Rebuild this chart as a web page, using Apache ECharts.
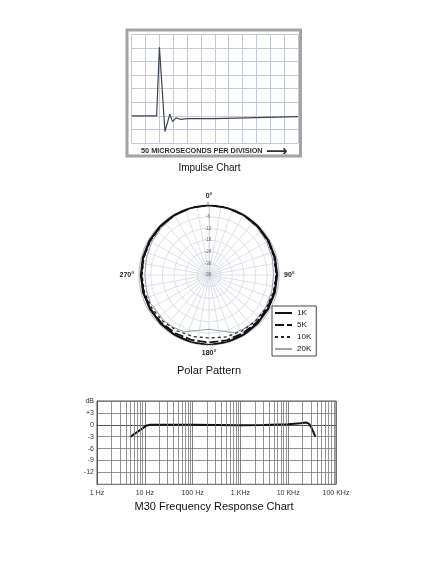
<!DOCTYPE html>
<html><head><meta charset="utf-8">
<script src="https://cdn.jsdelivr.net/npm/echarts/dist/echarts.min.js"></script>
<style>html,body{margin:0;padding:0;background:#fff}#c{width:439px;height:572px}</style>
</head><body><div id="c"></div>
<script>
// ---- Impulse chart (x in divisions of 50 µs, y in grid divisions) ----
const impulseTime  = [0, 1.8, 2.0, 2.4, 2.75, 2.95, 3.2, 3.5, 4, 6, 9, 12];
const impulseLevel = [0, 0, 5.05, -1.15, 0.12, -0.42, -0.15, -0.25, -0.2, -0.2, -0.12, -0.05];

// ---- Polar pattern (dB vs angle in degrees) ----
const polarAngles = [0, 15, 30, 45, 60, 75, 90, 105, 120, 135, 150, 165, 180, 195, 210, 225, 240, 255, 270, 285, 300, 315, 330, 345, 360];
const polar1K  = [0, -0.1, -0.3, -0.5, -0.7, -0.9, -1.0, -1.0, -1.0, -0.8, -0.5, -0.2, 0, -0.2, -0.5, -0.8, -1.0, -1.0, -1.0, -0.9, -0.7, -0.5, -0.3, -0.1, 0];
const polar5K  = [0, -0.1, -0.3, -0.6, -0.8, -1.1, -1.3, -1.4, -1.5, -1.4, -1.3, -1.2, -1.3, -1.4, -1.4, -1.3, -1.2, -1.2, -1.2, -1.1, -0.9, -0.6, -0.3, -0.1, 0];
const polar10K = [0, -0.2, -0.5, -0.8, -1.1, -1.4, -1.6, -1.8, -2.0, -2.3, -2.6, -3.0, -3.6, -3.3, -2.9, -2.4, -2.0, -1.7, -1.6, -1.4, -1.2, -0.9, -0.5, -0.2, 0];
const polarAngles20K = [0, 15, 30, 45, 60, 75, 90, 105, 120, 135, 145, 156, 180, 204, 215, 225, 244, 255, 270, 285, 300, 315, 330, 345, 360];
const polar20K = [0, -0.3, -0.7, -1.2, -1.8, -2.3, -2.8, -2.6, -2.4, -2.6, -2.9, -3.4, -8.1, -4.0, -3.4, -3.0, -2.6, -2.8, -3.0, -2.6, -2.0, -1.4, -0.8, -0.3, 0];
const polarNames = ['1K', '5K', '10K', '20K'];
const polarRings = [-36, 0, 6]; // min, max, step (dB)

// ---- Frequency response ----
const freqHz = [5, 11, 13, 20, 100, 1000, 3000, 10000, 18000, 24000, 27000, 30000, 33000, 37000];
const freqDb = [-3, -0.15, 0, 0, 0, -0.1, -0.05, 0.15, 0.4, 0.55, 0.3, -0.5, -1.6, -3];
const freqDecades = [1, 10, 100, 1000, 10000];
const freqMinorSteps = [2, 3, 4, 5, 6, 7, 8, 9];
const freqLabels = {1: '1 Hz', 10: '10 Hz', 100: '100 Hz', 1000: '1 KHz', 10000: '10 KHz', 100000: '100 KHz'};
const dbTicks = [-15, 6, 3];

const FONT = 'Liberation Sans';
const zip = (a, b) => a.map((v, i) => [v, b[i]]);
const polarData = (ang, db) => ang.map((a, i) => [db[i], a]);
const minorFreqs = [];
freqDecades.forEach(d => freqMinorSteps.forEach(m => minorFreqs.push(d * m)));

const chart = echarts.init(document.getElementById('c'), null, {renderer: 'canvas'});
chart.setOption({
  animation: false,
  backgroundColor: '#fff',
  title: [
    {text: '50 MICROSECONDS PER DIVISION', left: 141, top: 147, padding: 0,
     textStyle: {fontFamily: FONT, fontSize: 7.3, fontWeight: 'bold', color: '#2a2f3a'}},
    {text: '⟶', left: 266, top: 144.5, padding: 0,
     textStyle: {fontFamily: 'DejaVu Sans', fontSize: 15, fontWeight: 'bold', color: '#2a2f3a'}},
    {text: 'Impulse Chart', left: 209.5, textAlign: 'center', top: 163, padding: 0,
     textStyle: {fontFamily: FONT, fontSize: 10, fontWeight: 'normal', color: '#111'}},
    {text: 'Polar Pattern', left: 209, textAlign: 'center', top: 365, padding: 0,
     textStyle: {fontFamily: FONT, fontSize: 11, fontWeight: 'normal', color: '#111'}},
    {text: 'M30 Frequency Response Chart', left: 214, textAlign: 'center', top: 501, padding: 0,
     textStyle: {fontFamily: FONT, fontSize: 11, fontWeight: 'normal', color: '#111'}}
  ],
  legend: {
    data: polarNames, orient: 'vertical', left: 272, top: 306,
    borderColor: '#444', borderWidth: 1, padding: [3, 5, 3, 2],
    itemWidth: 17, itemHeight: 6, itemGap: 4,
    itemStyle: {color: 'rgba(0,0,0,0)', borderWidth: 0},
    textStyle: {fontFamily: FONT, fontSize: 8, color: '#111'}
  },
  grid: [
    {left: 131.7, top: 34.3, width: 166.3, height: 108.8, show: false},
    {left: 127, top: 30, width: 173.5, height: 126, show: true, borderColor: '#a3a3a3', borderWidth: 3, backgroundColor: 'transparent'},
    {left: 97, top: 401, width: 239, height: 83.3, show: true, borderColor: '#555', borderWidth: 1}
  ],
  xAxis: [
    {gridIndex: 0, type: 'value', min: 0, max: 12, interval: 1,
     axisLine: {show: false}, axisTick: {show: false}, axisLabel: {show: false},
     splitLine: {show: true, lineStyle: {color: '#c3c9d6', width: 1}}},
    {gridIndex: 1, type: 'value', show: false, min: 0, max: 1},
    {gridIndex: 2, type: 'log', logBase: 10, min: 1, max: 100000,
     axisLine: {show: true, lineStyle: {color: '#555'}}, axisTick: {show: false},
     axisLabel: {fontFamily: FONT, fontSize: 7, color: '#333', margin: 5,
                 formatter: v => freqLabels[Math.round(v)] || ''},
     splitLine: {show: true, lineStyle: {color: '#666', width: 0.8}}}
  ],
  yAxis: [
    {gridIndex: 0, type: 'value', min: -2, max: 6, interval: 1,
     axisLine: {show: false}, axisTick: {show: false}, axisLabel: {show: false},
     splitLine: {show: true, lineStyle: {color: '#c3c9d6', width: 1}}},
    {gridIndex: 1, type: 'value', show: false, min: 0, max: 1},
    {gridIndex: 2, type: 'value', min: dbTicks[0], max: dbTicks[1], interval: dbTicks[2],
     axisLine: {show: true, lineStyle: {color: '#555'}}, axisTick: {show: false},
     axisLabel: {fontFamily: FONT, fontSize: 7, color: '#333', margin: 3,
                 formatter: v => v === dbTicks[1] ? 'dB' : (v === dbTicks[0] ? '' : (v > 0 ? '+' + v : String(v)))},
     splitLine: {show: true, lineStyle: {color: '#777', width: 0.8}}}
  ],
  polar: {center: [209, 275], radius: 70},
  angleAxis: {
    type: 'value', min: 0, max: 360, interval: 10, startAngle: 90, clockwise: true,
    axisLine: {show: true, lineStyle: {color: '#b8bdc8', width: 1}},
    axisTick: {show: false},
    axisLabel: {show: true, margin: 5, fontFamily: FONT, fontSize: 7, fontWeight: 'bold', color: '#222',
                formatter: v => (v % 90 === 0 && v < 360) ? v + '°' : ''},
    splitLine: {show: true, lineStyle: {color: '#d3d8e2', width: 0.8}}
  },
  radiusAxis: {
    type: 'value', min: polarRings[0], max: polarRings[1], interval: polarRings[2],
    axisLine: {show: true, lineStyle: {color: '#cfd4de'}},
    axisTick: {show: false},
    axisLabel: {show: true, fontFamily: FONT, fontSize: 4.5, color: '#666', margin: 1, align: 'center'},
    splitLine: {show: true, lineStyle: {color: '#d3d8e2', width: 0.8}}
  },
  series: [
    {type: 'line', xAxisIndex: 0, yAxisIndex: 0, data: zip(impulseTime, impulseLevel),
     symbol: 'none', lineStyle: {color: '#3a4558', width: 1.2}, silent: true},
    {type: 'line', name: polarNames[0], coordinateSystem: 'polar', data: polarData(polarAngles, polar1K),
     symbol: 'none', color: '#111', lineStyle: {color: '#111', width: 2.2, type: 'solid'}, z: 5},
    {type: 'line', name: polarNames[1], coordinateSystem: 'polar', data: polarData(polarAngles, polar5K),
     symbol: 'none', color: '#111', lineStyle: {color: '#111', width: 1.8, type: [9, 3]}, z: 4},
    {type: 'line', name: polarNames[2], coordinateSystem: 'polar', data: polarData(polarAngles, polar10K),
     symbol: 'none', color: '#222', lineStyle: {color: '#222', width: 1.2, type: [3, 3]}, z: 3},
    {type: 'line', name: polarNames[3], coordinateSystem: 'polar', data: polarData(polarAngles20K, polar20K),
     symbol: 'none', color: '#9ea4b0', lineStyle: {color: '#9ea4b0', width: 1.1, type: 'solid'}, z: 2},
    {type: 'line', xAxisIndex: 2, yAxisIndex: 2, data: [], z: 1, silent: true,
     markLine: {silent: true, symbol: ['none', 'none'], label: {show: false},
                lineStyle: {color: '#777', width: 0.8, type: 'solid'},
                data: minorFreqs.map(f => ({xAxis: f}))}},
    {type: 'line', xAxisIndex: 2, yAxisIndex: 2, data: zip(freqHz, freqDb), z: 3,
     symbol: 'none', lineStyle: {color: '#111', width: 2}, silent: true}
  ]
});
</script></body></html>
